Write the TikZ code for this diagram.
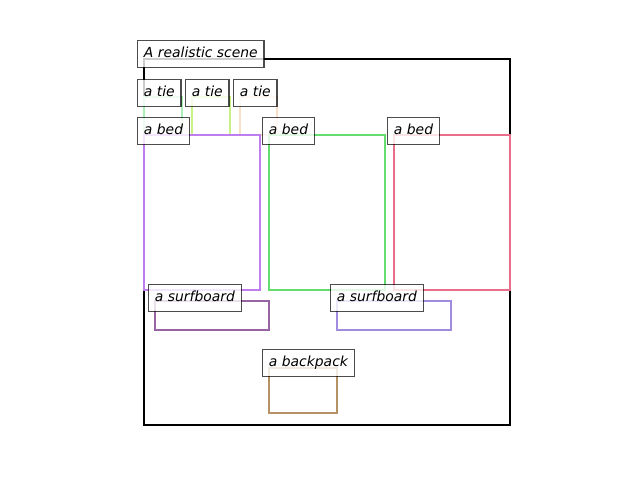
\documentclass[tikz,border=0pt]{standalone}
\usepackage{fontspec}
\setmainfont{DejaVu Sans}
\definecolor{tieA}{RGB}{170,238,184}
\definecolor{tieB}{RGB}{200,242,132}
\definecolor{tieC}{RGB}{248,224,198}
\definecolor{bedA}{RGB}{192,125,240}
\definecolor{bedB}{RGB}{100,220,110}
\definecolor{bedC}{RGB}{232,110,138}
\definecolor{surfA}{RGB}{150,100,160}
\definecolor{surfB}{RGB}{160,140,220}
\definecolor{packA}{RGB}{182,145,100}
\tikzset{
  objbox/.style={line width=2.8pt},
  lbl/.style={anchor=north west, draw=black, draw opacity=0.7, fill=white, fill opacity=0.8, text opacity=1,
    line width=1.3pt, inner xsep=6.3pt, inner ysep=6.4pt, text height=10.0pt, text depth=4.0pt,
    font=\fontsize{13.9}{16}\selectfont\itshape}
}
\begin{document}
\begin{tikzpicture}[x=1pt,y=-1pt]
\useasboundingbox (0,0) rectangle (640,480);
% scene
\draw[line width=2.8pt, black] (144,59) rectangle (510,425);
% ties
\draw[objbox, tieA] (144,97) rectangle (182,135);
\draw[objbox, tieB] (192,97) rectangle (230,135);
\draw[objbox, tieC] (240,97) rectangle (277,135);
% beds
\draw[objbox, bedA] (144,135) rectangle (260,290);
\draw[objbox, bedB] (269,135) rectangle (385,290);
\draw[objbox, bedC] (394,135) rectangle (510,290);
% surfboards
\draw[objbox, surfA] (155,301) rectangle (269,330);
\draw[objbox, surfB] (337,301) rectangle (451,330);
% backpack
\draw[objbox, packA] (269,368) rectangle (337,413);
% labels
\node[lbl] (lscene) at (137,40) {A realistic scene};
\node[lbl] (ltieA) at (137,79) {a tie};
\node[lbl] (ltieB) at (185,79) {a tie};
\node[lbl] (ltieC) at (233,79) {a tie};
\node[lbl] (lbedA) at (137,117) {a bed};
\node[lbl] (lbedB) at (262,117) {a bed};
\node[lbl] (lbedC) at (387,117) {a bed};
\node[lbl] (lsurfA) at (148,284) {a surfboard};
\node[lbl] (lsurfB) at (330,284) {a surfboard};
\node[lbl] (lpack) at (262,349) {a backpack};
\end{tikzpicture}
\end{document}
